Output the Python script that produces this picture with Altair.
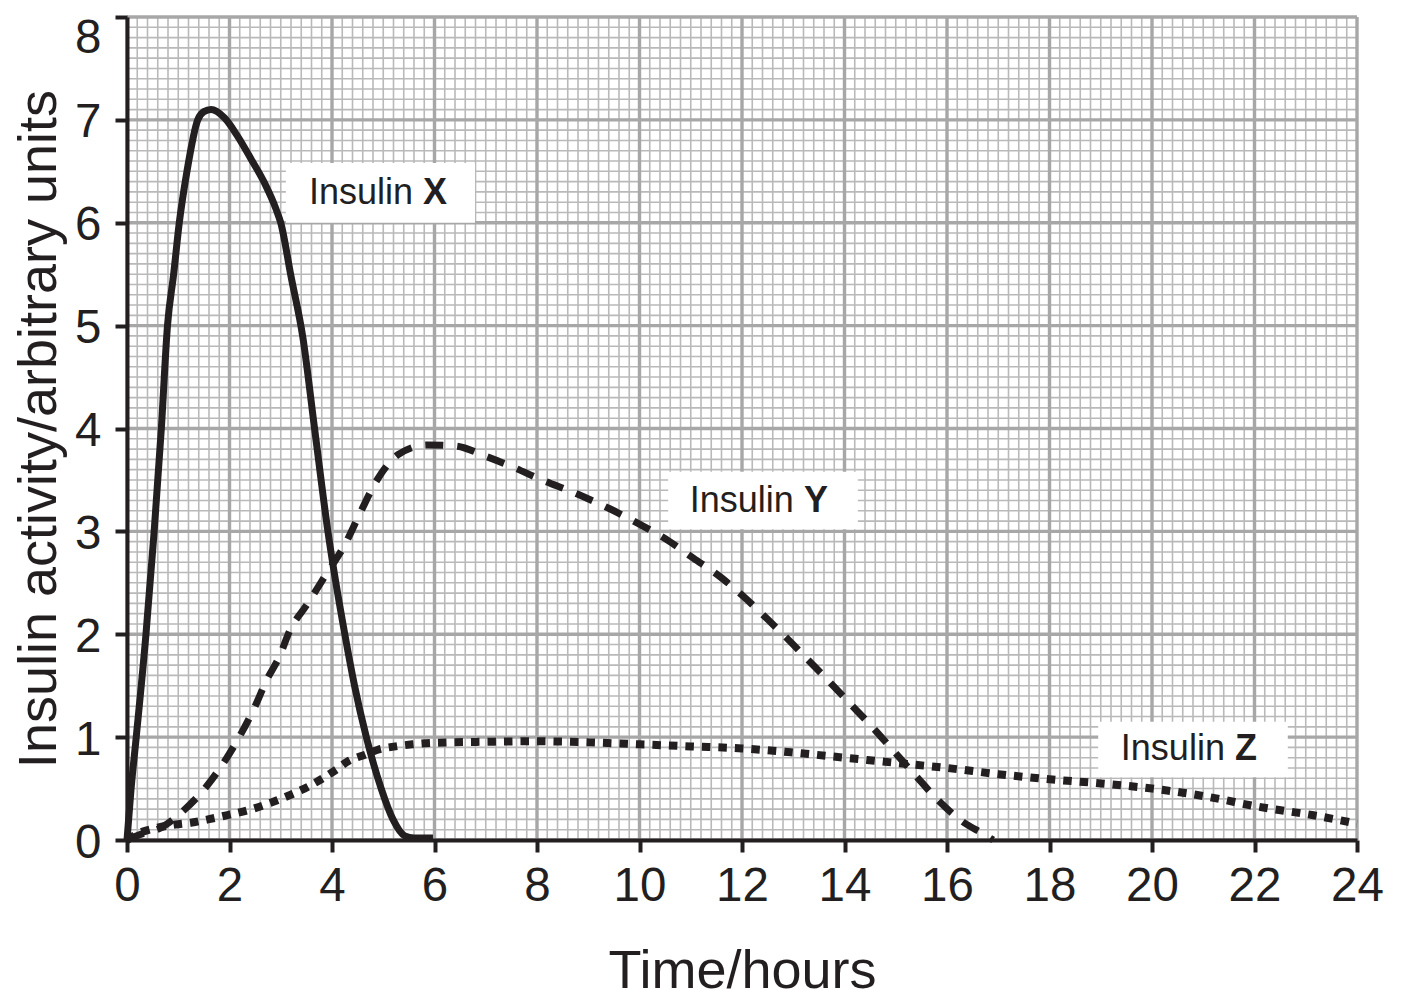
import altair as alt
import pandas as pd

# ---- data ----
x_time = [0, 0.08, 0.18, 0.37, 0.53, 0.67, 0.79, 0.91, 1.02, 1.17, 1.38, 1.5, 1.64, 1.9, 2.16,
          2.42, 2.68, 2.91, 3.0, 3.2, 3.43, 3.66, 3.92, 4.25, 4.44, 4.67, 4.96, 5.19, 5.42, 5.6, 5.97]
x_act = [0, 0.5, 1.0, 2.0, 3.0, 4.0, 5.0, 5.5, 6.0, 6.5, 7.0, 7.08, 7.1, 7.02, 6.84,
         6.62, 6.39, 6.13, 6.0, 5.48, 4.89, 4.0, 3.0, 2.0, 1.5, 1.0, 0.5, 0.2, 0.04, 0.02, 0.02]

y_time = [0, 0.24, 0.67, 1.09, 1.55, 1.91, 2.2, 2.49, 2.72, 2.98, 3.18, 3.5, 3.87, 4.26, 4.55,
          4.88, 5.3, 5.86, 6.41, 7.0, 7.6, 8.0, 8.8, 9.42, 10.0, 10.56, 11.05, 11.57, 12.0,
          12.49, 12.88, 13.27, 13.72, 14.1, 14.54, 14.95, 15.38, 15.82, 16.3, 16.74, 16.9]
y_act = [0, 0.05, 0.12, 0.28, 0.52, 0.77, 1.01, 1.29, 1.55, 1.79, 2.04, 2.28, 2.57, 2.88, 3.18,
         3.5, 3.75, 3.84, 3.83, 3.73, 3.61, 3.52, 3.36, 3.22, 3.07, 2.91, 2.74, 2.56, 2.38,
         2.15, 1.96, 1.76, 1.53, 1.33, 1.1, 0.87, 0.63, 0.39, 0.18, 0.05, 0.0]

z_time = [0, 0.25, 0.6, 0.94, 1.27, 1.58, 1.94, 2.5, 3.05, 3.54, 4.07, 4.33, 4.65, 4.91, 5.24,
          5.57, 6.0, 7.0, 8.0, 9.0, 10.0, 11.0, 12.0, 13.0, 14.0, 15.0, 16.0, 17.0, 18.0,
          19.0, 20.0, 21.2, 22.0, 23.15, 24.0]
z_act = [0, 0.07, 0.12, 0.15, 0.17, 0.2, 0.24, 0.31, 0.41, 0.52, 0.68, 0.77, 0.83, 0.88, 0.91,
         0.93, 0.945, 0.955, 0.96, 0.95, 0.93, 0.91, 0.89, 0.85, 0.8, 0.75, 0.7, 0.64, 0.59,
         0.55, 0.5, 0.41, 0.33, 0.24, 0.16]

x_ticks = list(range(0, 25, 2))
y_ticks = list(range(0, 9))
x_minor = [round(i * 0.2, 1) for i in range(121)]
y_minor = [round(i * 0.1, 1) for i in range(81)]

label_letters = ["X", "Y", "Z"]
label_t = [5.68, 13.11, 21.52]
label_v = [6.29, 3.30, 0.885]
box_t1 = [3.1, 10.56, 18.95]
box_t2 = [6.79, 14.26, 22.65]
box_v1 = [6.0, 3.02, 0.61]
box_v2 = [6.58, 3.58, 1.15]

INK = "#231f20"
FONT = "Liberation Sans"

x_scale = alt.Scale(domain=[0, 24], nice=False, zero=True)
y_scale = alt.Scale(domain=[0, 8], nice=False, zero=True)

x_axis = alt.Axis(values=x_ticks, grid=False, domainColor=INK, domainWidth=4,
                  tickColor=INK, tickWidth=4, tickSize=12, labelFont=FONT, labelFontSize=47.5,
                  labelColor=INK, labelPadding=10, labelFlush=False, labelOverlap=False,
                  title="Time/hours", titleFont=FONT, titleFontSize=54, titleFontWeight="normal",
                  titleColor=INK, titlePadding=35, zindex=2, format="d")
y_axis = alt.Axis(values=y_ticks, grid=False, domainColor=INK, domainWidth=4,
                  tickColor=INK, tickWidth=4, tickSize=12, labelFont=FONT, labelFontSize=47.5,
                  labelColor=INK, labelPadding=14, labelFlush=False, labelOverlap=False,
                  labelOffset={"condition": {"test": "datum.value === 8", "value": 21}, "value": 3},
                  title="Insulin activity/arbitrary units", titleFont=FONT, titleFontSize=54,
                  titleFontWeight="normal", titleColor=INK, titlePadding=8, zindex=2, format="d")

X = alt.X("t:Q", scale=x_scale, axis=x_axis)
Y = alt.Y("v:Q", scale=y_scale, axis=y_axis)

df_xm = pd.DataFrame({"t": x_minor})
df_ym = pd.DataFrame({"v": y_minor})
df_xM = pd.DataFrame({"t": x_ticks})
df_yM = pd.DataFrame({"v": y_ticks})

minor_v = alt.Chart(df_xm).mark_rule(color="#b9b9b9", strokeWidth=1.6).encode(x=X)
minor_h = alt.Chart(df_ym).mark_rule(color="#b9b9b9", strokeWidth=1.6).encode(y=Y)
major_v = alt.Chart(df_xM).mark_rule(color="#a7a7a7", strokeWidth=3.4).encode(x=X)
major_h = alt.Chart(df_yM).mark_rule(color="#a7a7a7", strokeWidth=3.4).encode(y=Y)

dfX = pd.DataFrame({"t": x_time, "v": x_act})
dfY = pd.DataFrame({"t": y_time, "v": y_act})
dfZ = pd.DataFrame({"t": z_time, "v": z_act})

lineX = alt.Chart(dfX).mark_line(color=INK, strokeWidth=7, interpolate="monotone",
                                 strokeJoin="round").encode(x=X, y=Y, order="t:Q")
lineY = alt.Chart(dfY).mark_line(color=INK, strokeWidth=7, interpolate="monotone",
                                 strokeDash=[18, 14], strokeCap="butt").encode(x=X, y=Y, order="t:Q")
lineZ = alt.Chart(dfZ).mark_line(color=INK, strokeWidth=8, interpolate="monotone",
                                 strokeDash=[8.5, 8], strokeCap="butt").encode(x=X, y=Y, order="t:Q")

df_lab = pd.DataFrame({"letter": label_letters, "t": label_t, "v": label_v,
                       "bt1": box_t1, "bt2": box_t2, "bv1": box_v1, "bv2": box_v2,
                       "word": ["Insulin"] * 3})

boxes = alt.Chart(df_lab).mark_rect(color="white").encode(
    x=alt.X("bt1:Q", scale=x_scale, axis=x_axis), x2="bt2:Q",
    y=alt.Y("bv1:Q", scale=y_scale, axis=y_axis), y2="bv2:Q")
words = alt.Chart(df_lab).mark_text(align="right", baseline="middle", dx=-5, font=FONT,
                                    fontSize=36, color=INK).encode(x=X, y=Y, text="word:N")
letters = alt.Chart(df_lab).mark_text(align="left", baseline="middle", dx=5, font=FONT,
                                      fontSize=36, fontWeight="bold", color=INK).encode(
    x=X, y=Y, text="letter:N")

chart = alt.layer(minor_v, minor_h, major_v, major_h, lineX, lineY, lineZ, boxes, words, letters
                  ).properties(
    width=1230, height=823,
    autosize=alt.AutoSizeParams(type="none"),
    padding={"left": 119, "top": 9, "right": 37, "bottom": 160},
    background="white",
).configure_view(strokeWidth=0)

chart.save("out.html", embed_options={"renderer": "svg", "actions": False})
